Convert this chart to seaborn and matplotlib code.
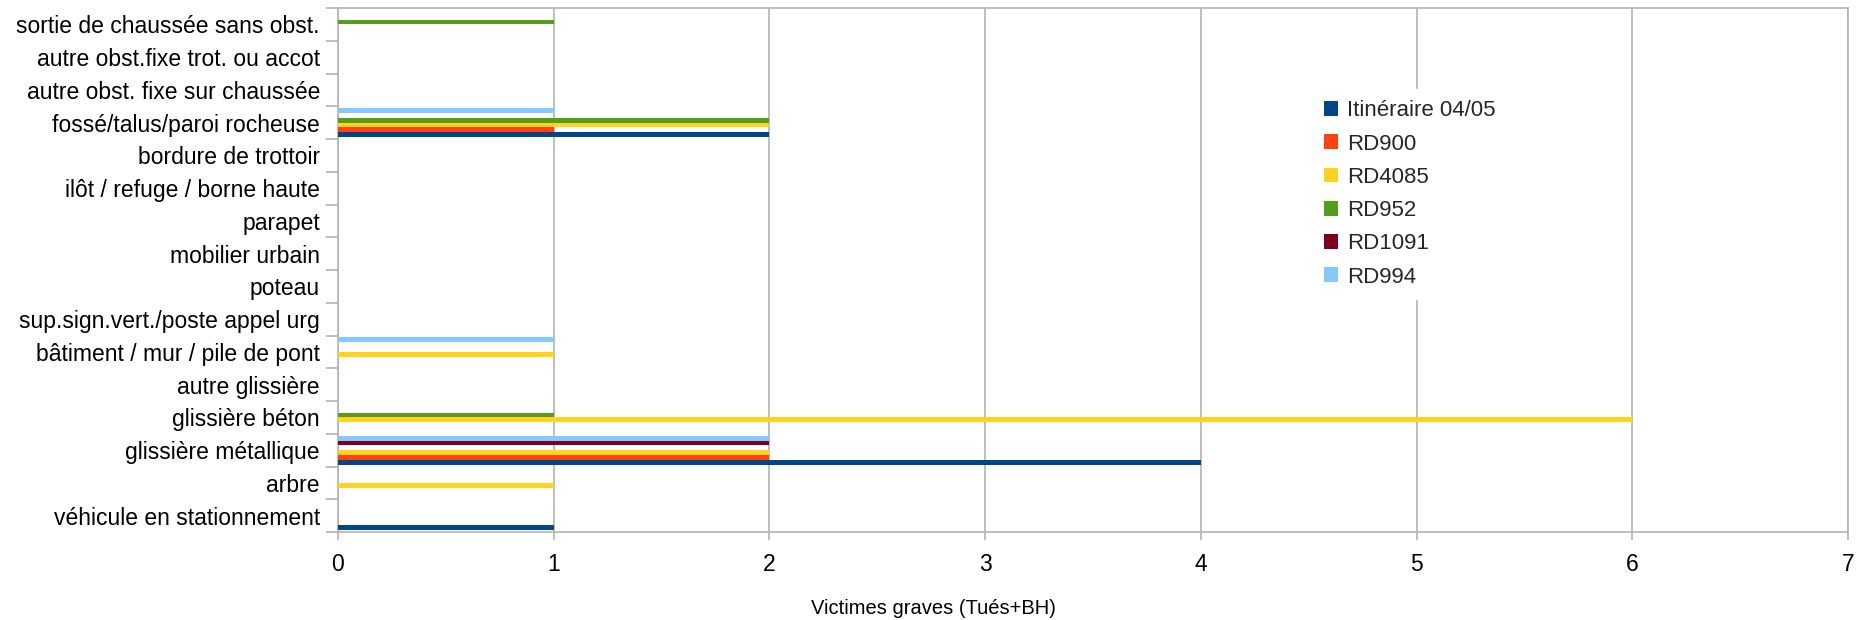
import matplotlib
matplotlib.use('Agg')
import matplotlib.pyplot as plt
import seaborn as sns
import pandas as pd
from matplotlib.patches import Patch
from matplotlib.ticker import FixedLocator

categories = [
    "véhicule en stationnement", "arbre", "glissière métallique", "glissière béton",
    "autre glissière", "bâtiment / mur / pile de pont", "sup.sign.vert./poste appel urg",
    "poteau", "mobilier urbain", "parapet", "ilôt / refuge / borne haute",
    "bordure de trottoir", "fossé/talus/paroi rocheuse", "autre obst. fixe sur chaussée",
    "autre obst.fixe trot. ou accot", "sortie de chaussée sans obst.",
]
series = ["Itinéraire 04/05", "RD900", "RD4085", "RD952", "RD1091", "RD994"]
itin = [1, 0, 4, 0, 0, 0, 0, 0, 0, 0, 0, 0, 2, 0, 0, 0]
rd900 = [0, 0, 2, 0, 0, 0, 0, 0, 0, 0, 0, 0, 1, 0, 0, 0]
rd4085 = [0, 1, 2, 6, 0, 1, 0, 0, 0, 0, 0, 0, 2, 0, 0, 0]
rd952 = [0, 0, 0, 1, 0, 0, 0, 0, 0, 0, 0, 0, 2, 0, 0, 1]
rd1091 = [0, 0, 2, 0, 0, 0, 0, 0, 0, 0, 0, 0, 0, 0, 0, 0]
rd994 = [0, 0, 2, 0, 0, 1, 0, 0, 0, 0, 0, 0, 1, 0, 0, 0]
colors = ["#004586", "#ff420e", "#ffd320", "#579d1c", "#7e0021", "#83caff"]
x_label = "Victimes graves (Tués+BH)"

values = [itin, rd900, rd4085, rd952, rd1091, rd994]
rows = []
for s, vals in zip(series, values):
    for c, v in zip(categories, vals):
        rows.append({"cat": c, "serie": s, "val": v})
df = pd.DataFrame(rows)

sns.set_theme(style="white")
plt.rcParams['font.family'] = ['Liberation Sans', 'DejaVu Sans']

fig = plt.figure(figsize=(18.57, 6.2), dpi=100)
ax = fig.add_axes([338/1857, 1 - 532/620, (1848-338)/1857, (532-8)/620])

sns.barplot(data=df, y="cat", x="val", hue="serie", order=categories,
            hue_order=series, palette=colors, saturation=1, orient="h", width=0.88,
            linewidth=0, errorbar=None, legend=False, ax=ax, zorder=3)

ax.set_ylim(-0.5, len(categories) - 0.5)
ax.set_xlim(0, 7)
ax.set_xticks(range(0, 8))
ax.grid(axis="x", color="#b3b3b3", linewidth=1.2, zorder=0)
ax.grid(axis="y", visible=False)
ax.set_axisbelow(True)
for sp in ax.spines.values():
    sp.set_color("#b3b3b3")
    sp.set_linewidth(1.2)

ax.yaxis.set_minor_locator(FixedLocator([i - 0.5 for i in range(len(categories) + 1)]))
ax.tick_params(axis="y", which="major", length=0, pad=13, labelsize=16.5, labelcolor="#000000")
ax.tick_params(axis="y", which="minor", left=True, length=9, width=1.2, color="#b3b3b3")
ax.tick_params(axis="x", which="major", bottom=True, length=6, width=1.2, color="#b3b3b3",
               pad=9, labelsize=16.5, labelcolor="#000000")
ax.set_ylabel("")
ax.set_xlabel("")
fig.text(933/1857, 6/620, x_label, fontsize=14.5, ha="center", va="baseline", color="#000000")

handles = [Patch(facecolor=c, edgecolor="none") for c in colors]
leg = ax.legend(handles, series, loc="upper left", bbox_to_anchor=(0.638, 0.866),
                frameon=True, fancybox=False, framealpha=1, edgecolor="white",
                fontsize=16, handlelength=0.65, handleheight=0.65, handletextpad=0.4,
                labelspacing=0.55, borderpad=0.5)
leg.set_zorder(5)

fig.savefig("out.png", dpi=100)
